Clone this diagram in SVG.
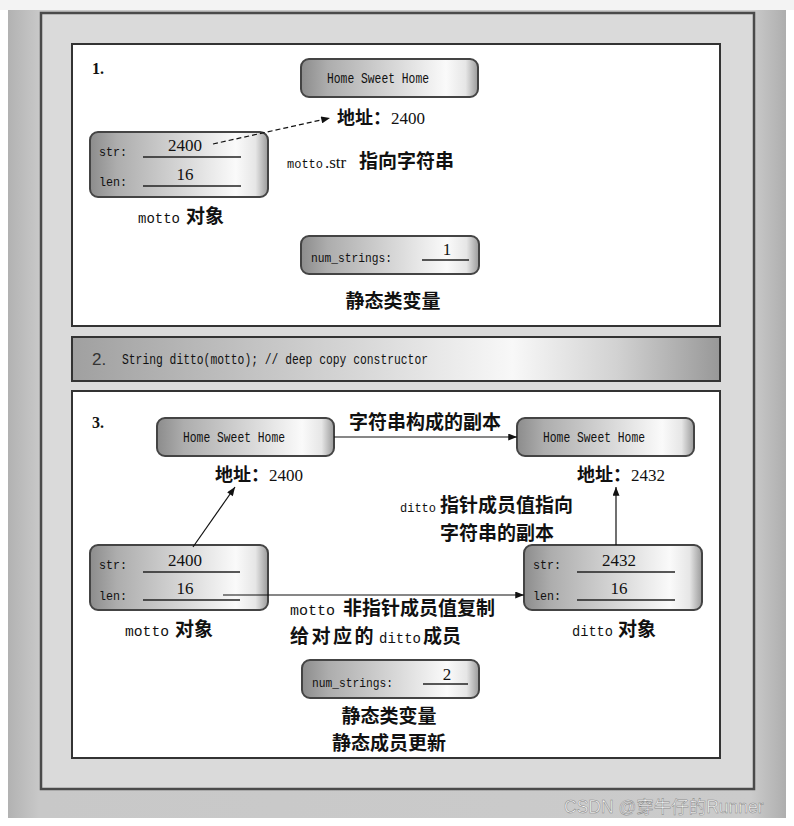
<svg xmlns="http://www.w3.org/2000/svg" width="794" height="826" viewBox="0 0 794 826">
<style>
.m{font-family:"Liberation Mono","DejaVu Sans Mono",monospace;fill:#111}
.s{font-family:"Liberation Serif","DejaVu Serif",serif;fill:#111}
.c{font-family:"Noto Sans CJK SC","Noto Sans",sans-serif;font-weight:bold;fill:#111}
.box{fill:url(#boxg);stroke:#444;stroke-width:2}
.panel{fill:#fff;stroke:#333;stroke-width:2}
.ul{stroke:#222;stroke-width:1.6}
.arr{stroke:#111;stroke-width:1.2;fill:none;marker-end:url(#ah)}
</style>
<defs>
<linearGradient id="boxg" x1="0" y1="0" x2="1" y2="0">
<stop offset="0" stop-color="#8c8c8c"/>
<stop offset="0.15" stop-color="#adadad"/>
<stop offset="0.55" stop-color="#dadada"/>
<stop offset="0.82" stop-color="#fafafa"/>
<stop offset="0.93" stop-color="#e6e6e6"/>
<stop offset="1" stop-color="#9a9a9a"/>
</linearGradient>
<linearGradient id="p2g" x1="0" y1="0" x2="1" y2="0">
<stop offset="0" stop-color="#a0a0a0"/>
<stop offset="0.45" stop-color="#d8d8d8"/>
<stop offset="0.68" stop-color="#f8f8f8"/>
<stop offset="0.84" stop-color="#d2d2d2"/>
<stop offset="1" stop-color="#989898"/>
</linearGradient>
<linearGradient id="bgg" x1="0" y1="0" x2="1" y2="0">
<stop offset="0" stop-color="#b2b2b2"/>
<stop offset="0.04" stop-color="#c8c8c8"/>
<stop offset="0.955" stop-color="#cbcbcb"/>
<stop offset="1" stop-color="#aeaeae"/>
</linearGradient>
<marker id="ah" viewBox="0 0 10 8" refX="10" refY="4" markerWidth="10" markerHeight="7" markerUnits="userSpaceOnUse" orient="auto">
<path d="M0,0 L10,4 L0,8 Z" fill="#111"/>
</marker>
</defs>

<!-- background -->
<rect x="0" y="0" width="794" height="826" fill="#fff"/>
<rect x="0" y="0" width="794" height="10" fill="#f3f3f3"/>
<rect x="8" y="10" width="778" height="808" fill="url(#bgg)"/>
<rect x="41" y="13" width="713" height="776" fill="#dadada" stroke="#4a4a4a" stroke-width="2.5"/>

<!-- panels -->
<rect class="panel" x="72" y="44" width="648" height="282"/>
<rect x="72" y="337" width="648" height="44" fill="url(#p2g)" stroke="#333" stroke-width="2"/>
<rect class="panel" x="72" y="391" width="648" height="367"/>

<!-- Panel 1 -->
<g id="p1-label"><text class="s" x="92" y="74" font-size="16" font-weight="bold">1.</text></g>
<g id="p1-string">
<rect class="box" x="301" y="59" width="177" height="38" rx="8"/>
<text class="m" x="327" y="83" font-size="14" textLength="102" lengthAdjust="spacingAndGlyphs">Home Sweet Home</text>
</g>
<g id="p1-addr"><text x="337" y="124"><tspan class="c" font-size="18">地址：</tspan><tspan class="s" font-size="17">2400</tspan></text></g>
<g id="p1-motto">
<rect class="box" x="90" y="132" width="178" height="65" rx="8"/>
<text class="m" x="99" y="156" font-size="13.5" textLength="28" lengthAdjust="spacingAndGlyphs">str:</text>
<line class="ul" x1="143" y1="157" x2="241" y2="157"/>
<text class="s" x="185" y="151" font-size="17" text-anchor="middle">2400</text>
<text class="m" x="99" y="186" font-size="13.5" textLength="28" lengthAdjust="spacingAndGlyphs">len:</text>
<line class="ul" x1="143" y1="186" x2="241" y2="186"/>
<text class="s" x="185" y="180" font-size="17" text-anchor="middle">16</text>
</g>
<g id="p1-motto-label">
<text y="223"><tspan class="m" x="138" font-size="15" textLength="42" lengthAdjust="spacingAndGlyphs">motto</tspan><tspan class="c" x="186" font-size="19">对象</tspan></text>
</g>
<g id="p1-note">
<text y="168"><tspan class="m" x="287" font-size="12.5" textLength="36" lengthAdjust="spacingAndGlyphs">motto</tspan><tspan class="s" x="325" font-size="17">.str</tspan><tspan class="c" x="359" font-size="19">指向字符串</tspan></text>
</g>
<g id="p1-num">
<rect class="box" x="301" y="236" width="178" height="38" rx="8"/>
<text class="m" x="311" y="262" font-size="13.5" textLength="81" lengthAdjust="spacingAndGlyphs">num_strings:</text>
<line class="ul" x1="422" y1="260" x2="469" y2="260"/>
<text class="s" x="447" y="255" font-size="17" text-anchor="middle">1</text>
</g>
<g id="p1-static"><text class="c" x="393" y="308" font-size="19" text-anchor="middle">静态类变量</text></g>

<!-- Panel 2 -->
<g id="p2">
<text x="92" y="365" font-family="Liberation Sans, sans-serif" font-size="17" fill="#333">2.</text>
<text class="m" x="122" y="364" font-size="14" textLength="306" lengthAdjust="spacingAndGlyphs">String ditto(motto); // deep copy constructor</text>
</g>

<!-- Panel 3 -->
<g id="p3-label"><text class="s" x="92" y="428" font-size="16" font-weight="bold">3.</text></g>
<g id="p3-string1">
<rect class="box" x="157" y="418" width="177" height="38" rx="8"/>
<text class="m" x="183" y="442" font-size="14" textLength="102" lengthAdjust="spacingAndGlyphs">Home Sweet Home</text>
</g>
<g id="p3-string2">
<rect class="box" x="517" y="418" width="177" height="38" rx="8"/>
<text class="m" x="543" y="442" font-size="14" textLength="102" lengthAdjust="spacingAndGlyphs">Home Sweet Home</text>
</g>
<g id="p3-copy-label"><text class="c" x="425" y="429" font-size="19" text-anchor="middle">字符串构成的副本</text></g>
<g id="p3-addr1"><text x="215" y="481"><tspan class="c" font-size="18">地址：</tspan><tspan class="s" font-size="17">2400</tspan></text></g>
<g id="p3-addr2"><text x="577" y="481"><tspan class="c" font-size="18">地址：</tspan><tspan class="s" font-size="17">2432</tspan></text></g>
<g id="p3-ditto-note">
<text><tspan class="m" x="400" y="512" font-size="12.5" textLength="36" lengthAdjust="spacingAndGlyphs">ditto</tspan><tspan class="c" x="440" y="512" font-size="19">指针成员值指向</tspan><tspan class="c" x="440" y="540" font-size="19">字符串的副本</tspan></text>
</g>
<g id="p3-motto">
<rect class="box" x="90" y="545" width="178" height="65" rx="8"/>
<text class="m" x="99" y="569" font-size="13.5" textLength="28" lengthAdjust="spacingAndGlyphs">str:</text>
<line class="ul" x1="143" y1="572" x2="240" y2="572"/>
<text class="s" x="185" y="566" font-size="17" text-anchor="middle">2400</text>
<text class="m" x="99" y="600" font-size="13.5" textLength="28" lengthAdjust="spacingAndGlyphs">len:</text>
<line class="ul" x1="143" y1="600" x2="240" y2="600"/>
<text class="s" x="185" y="594" font-size="17" text-anchor="middle">16</text>
</g>
<g id="p3-ditto">
<rect class="box" x="524" y="545" width="178" height="65" rx="8"/>
<text class="m" x="533" y="569" font-size="13.5" textLength="28" lengthAdjust="spacingAndGlyphs">str:</text>
<line class="ul" x1="577" y1="572" x2="675" y2="572"/>
<text class="s" x="619" y="566" font-size="17" text-anchor="middle">2432</text>
<text class="m" x="533" y="600" font-size="13.5" textLength="28" lengthAdjust="spacingAndGlyphs">len:</text>
<line class="ul" x1="577" y1="600" x2="675" y2="600"/>
<text class="s" x="619" y="594" font-size="17" text-anchor="middle">16</text>
</g>
<g id="p3-motto-label">
<text y="636"><tspan class="m" x="125" font-size="15" textLength="44" lengthAdjust="spacingAndGlyphs">motto</tspan><tspan class="c" x="175" font-size="19">对象</tspan></text>
</g>
<g id="p3-ditto-label">
<text y="636"><tspan class="m" x="572" font-size="15" textLength="41" lengthAdjust="spacingAndGlyphs">ditto</tspan><tspan class="c" x="618" font-size="19">对象</tspan></text>
</g>
<g id="p3-copy-note">
<text><tspan class="m" x="290" y="615" font-size="14.5" textLength="45" lengthAdjust="spacingAndGlyphs">motto</tspan><tspan class="c" x="343" y="615" font-size="19">非指针成员值复制</tspan><tspan class="c" x="290" y="643" font-size="19" letter-spacing="2.5">给对应的</tspan><tspan class="m" x="379" y="643" font-size="14" textLength="42" lengthAdjust="spacingAndGlyphs">ditto</tspan><tspan class="c" x="423" y="643" font-size="19">成员</tspan></text>
</g>
<g id="p3-num">
<rect class="box" x="302" y="660" width="177" height="38" rx="8"/>
<text class="m" x="312" y="687" font-size="13.5" textLength="81" lengthAdjust="spacingAndGlyphs">num_strings:</text>
<line class="ul" x1="423" y1="684" x2="468" y2="684"/>
<text class="s" x="447" y="680" font-size="17" text-anchor="middle">2</text>
</g>
<g id="p3-static">
<text class="c" font-size="19" text-anchor="middle"><tspan x="389" y="723">静态类变量</tspan><tspan x="389" y="750">静态成员更新</tspan></text>
</g>

<!-- connectors -->
<g id="connectors">
<line class="arr" x1="213" y1="144" x2="330" y2="118" stroke-dasharray="5 3"/>
<line class="arr" x1="334" y1="437" x2="517" y2="437"/>
<line class="arr" x1="193" y1="547" x2="235" y2="487"/>
<line class="arr" x1="616" y1="545" x2="616" y2="487"/>
<line class="arr" x1="223" y1="595" x2="524" y2="595"/>
</g>

<!-- watermark -->
<text x="564" y="813" font-family="Liberation Sans, Noto Sans CJK SC, sans-serif" font-size="17.5" fill="#f6f6f6" stroke="#868686" stroke-width="0.5">CSDN @穿牛仔的Runner</text>
</svg>
